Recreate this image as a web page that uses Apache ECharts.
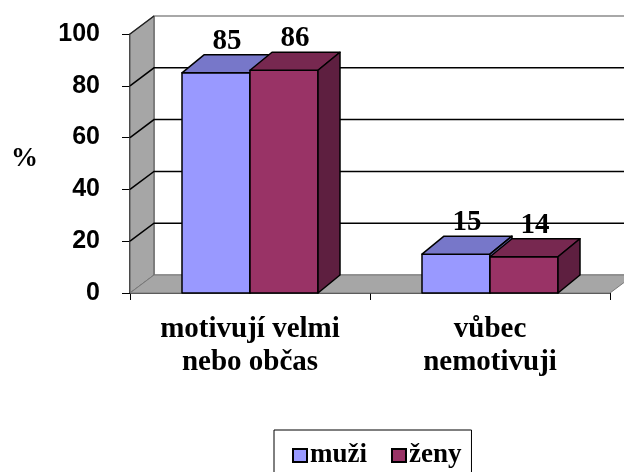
<!DOCTYPE html>
<html>
<head>
<meta charset="utf-8">
<script src="https://cdn.jsdelivr.net/npm/echarts@6/dist/echarts.min.js"></script>
<style>
  html, body { margin: 0; padding: 0; background: #fff; }
  #chart { width: 624px; height: 472px; }
</style>
</head>
<body>
<div id="chart"></div>
<script>
// data
var categories = ['motivují velmi\nnebo občas', 'vůbec\nnemotivuji'];
var seriesNames = ['muži', 'ženy'];
var muzi = [85, 15];
var zeny = [86, 14];
var yTicks = [0, 20, 40, 60, 80, 100];

var serif = '"Liberation Serif", "Times New Roman", serif';
var BAR_W = 68;
var WALL_DX = 24, WALL_DY = -18;
var BAR_DX = 22, BAR_DY = -18;

// 3D walls (side wall, floor, back wall with gridlines)
function renderWalls (params, api) {
    var cs = params.coordSys;
    var L = cs.x, R = cs.x + cs.width;
    var T = api.coord([0, yTicks[yTicks.length - 1]])[1];
    var B = api.coord([0, yTicks[0]])[1];
    var children = [];
    children.push({
        type: 'rect',
        shape: { x: L + WALL_DX, y: T + WALL_DY, width: R - L, height: B - T },
        style: { fill: '#fff', stroke: '#8c8c8c', lineWidth: 1.5 }
    });
    children.push({
        type: 'polygon',
        shape: { points: [[L, T], [L + WALL_DX, T + WALL_DY], [L + WALL_DX, B + WALL_DY], [L, B]] },
        style: { fill: '#a6a6a6', stroke: '#555', lineWidth: 1 }
    });
    children.push({
        type: 'polygon',
        shape: { points: [[L, B], [L + WALL_DX, B + WALL_DY], [R + WALL_DX, B + WALL_DY], [R, B]] },
        style: { fill: '#a6a6a6', stroke: '#7a7a7a', lineWidth: 1 }
    });
    yTicks.forEach(function (v, i) {
        if (i === 0 || i === yTicks.length - 1) return;
        var y = api.coord([0, v])[1];
        children.push({
            type: 'polyline',
            shape: { points: [[L, y], [L + WALL_DX, y + WALL_DY], [R + WALL_DX, y + WALL_DY]] },
            style: { fill: null, stroke: '#000', lineWidth: 1.5 }
        });
    });
    // top edge of the side wall
    children.push({
        type: 'line',
        shape: { x1: L, y1: T, x2: L + WALL_DX, y2: T + WALL_DY },
        style: { stroke: '#222', lineWidth: 1.5 }
    });
    return { type: 'group', children: children };
}

// 3D bar box: side = -1 left of category center, +1 right of it
function makeBarRender (side, front, top, right) {
    return function (params, api) {
        var cat = api.value(0), val = api.value(1);
        var base = api.coord([cat, 0]);
        var tip = api.coord([cat, val]);
        var x0 = side < 0 ? base[0] - BAR_W : base[0];
        var x1 = x0 + BAR_W;
        var ty = tip[1], by = base[1];
        var stroke = { stroke: '#000', lineWidth: 1.5, lineJoin: 'round' };
        return {
            type: 'group',
            children: [
                {
                    type: 'rect',
                    shape: { x: x0, y: ty, width: BAR_W, height: by - ty },
                    style: Object.assign({ fill: front }, stroke)
                },
                {
                    type: 'polygon',
                    shape: { points: [[x0, ty], [x1, ty], [x1 + BAR_DX, ty + BAR_DY], [x0 + BAR_DX, ty + BAR_DY]] },
                    style: Object.assign({ fill: top }, stroke)
                },
                {
                    type: 'polygon',
                    shape: { points: [[x1, ty], [x1 + BAR_DX, ty + BAR_DY], [x1 + BAR_DX, by + BAR_DY], [x1, by]] },
                    style: Object.assign({ fill: right }, stroke)
                },
                {
                    type: 'text',
                    style: {
                        text: String(val),
                        x: x0 + BAR_W / 2 + BAR_DX / 2,
                        y: ty + BAR_DY + 1,
                        align: 'center',
                        verticalAlign: 'bottom',
                        font: 'bold 29px ' + serif,
                        fill: '#000'
                    }
                }
            ]
        };
    };
}

function toPoints (values) {
    return values.map(function (v, i) { return [i, v]; });
}

var myChart = echarts.init(document.getElementById('chart'));
var option = {
    animation: false,
    backgroundColor: '#fff',
    grid: { left: 130, right: 14, top: 34, bottom: 179 },
    legend: {
        data: seriesNames,
        left: 274,
        top: 430,
        orient: 'horizontal',
        icon: 'rect',
        itemWidth: 14,
        itemHeight: 13,
        itemGap: 24,
        padding: [12, 10, 20, 18],
        borderColor: '#000',
        borderWidth: 1,
        itemStyle: { borderColor: '#000', borderWidth: 2 },
        textStyle: { fontFamily: serif, fontWeight: 'bold', fontSize: 27, color: '#000', padding: [0, 0, 0, -2] }
    },
    graphic: [
        {
            type: 'text',
            left: 11,
            top: 146,
            style: { text: '%', font: 'bold 27px ' + serif, fill: '#000' }
        }
    ],
    xAxis: {
        type: 'category',
        data: categories,
        boundaryGap: true,
        axisLine: { show: true, lineStyle: { color: '#000', width: 1.5 } },
        axisTick: { show: true, length: 7, lineStyle: { color: '#000', width: 1 } },
        axisLabel: {
            margin: 20,
            fontFamily: serif,
            fontWeight: 'bold',
            fontSize: 29,
            lineHeight: 33,
            color: '#000',
            align: 'center'
        },
        splitLine: { show: false }
    },
    yAxis: {
        type: 'value',
        min: 0,
        max: 100,
        interval: 20,
        axisLine: { show: true, lineStyle: { color: '#000', width: 1.5 } },
        axisTick: { show: true, length: 8, lineStyle: { color: '#000', width: 1 } },
        axisLabel: {
            margin: 30,
            fontFamily: '"Liberation Sans", Arial, sans-serif',
            fontWeight: 'bold',
            fontSize: 25,
            color: '#000'
        },
        splitLine: { show: false }
    },
    series: [
        {
            name: 'walls',
            type: 'custom',
            silent: true,
            clip: false,
            z: 1,
            renderItem: renderWalls,
            data: [[0, 0]]
        },
        {
            name: seriesNames[0],
            type: 'custom',
            clip: false,
            z: 2,
            itemStyle: { color: '#9999ff' },
            renderItem: makeBarRender(-1, '#9999ff', '#7777c9', '#6b6bb8'),
            encode: { x: 0, y: 1 },
            data: toPoints(muzi)
        },
        {
            name: seriesNames[1],
            type: 'custom',
            clip: false,
            z: 3,
            itemStyle: { color: '#993366' },
            renderItem: makeBarRender(1, '#993366', '#772850', '#5e1f40'),
            encode: { x: 0, y: 1 },
            data: toPoints(zeny)
        }
    ]
};
myChart.setOption(option);
</script>
</body>
</html>
